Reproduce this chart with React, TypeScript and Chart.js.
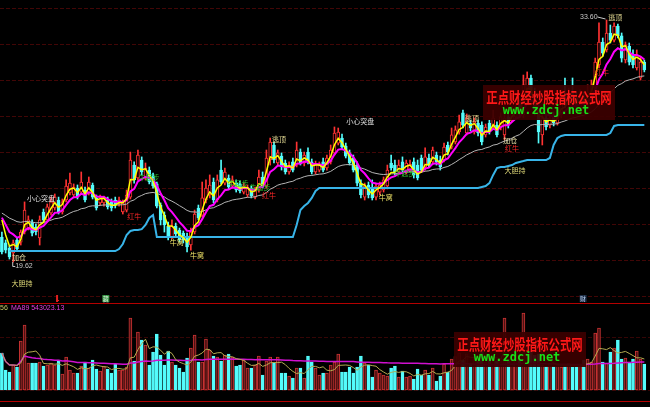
import React, { useEffect, useRef } from 'react';
import { Chart, registerables } from 'chart.js';

Chart.register(...registerables);

// Daily OHLC prices
const OPEN = [
  21.06, 20.72, 20.43, 20.14, 20.89, 20.77, 21.35, 21.58, 21.93, 21.64,
  21.01, 22.51, 22.05, 22.45, 22.74, 23.20, 22.51, 23.20, 23.61, 23.49,
  23.89, 23.66, 23.78, 23.61, 24.07, 23.32, 23.03, 23.03, 23.20, 23.09,
  23.20, 23.03, 22.51, 22.62, 23.37, 25.22, 24.47, 25.51, 24.47, 24.93,
  24.59, 24.13, 22.91, 22.33, 21.70, 21.06, 21.70, 21.47, 21.29, 21.12,
  20.60, 21.35, 22.74, 22.33, 23.20, 23.49, 24.24, 23.20, 24.93, 24.18,
  24.47, 24.01, 24.18, 24.13, 23.66, 23.49, 23.89, 23.37, 23.78, 24.53,
  24.01, 25.51, 26.38, 25.34, 25.74, 25.34, 24.82, 25.40, 25.22, 25.97,
  25.34, 25.97, 25.40, 24.82, 24.93, 25.40, 25.05, 25.40, 25.92, 26.49,
  26.78, 26.32, 25.92, 25.63, 25.22, 24.18, 23.37, 24.07, 23.89, 23.37,
  23.66, 23.78, 24.01, 25.34, 25.22, 24.82, 25.40, 24.82, 24.93, 25.40,
  25.22, 25.63, 25.11, 25.63, 25.40, 25.80, 25.51, 25.51, 26.38, 26.26,
  26.55, 27.13, 28.23, 27.07, 27.65, 27.13, 27.65, 27.53, 26.96, 27.65,
  27.42, 27.53, 27.42, 26.96, 28.00, 27.82, 28.00, 28.80, 28.11, 29.56,
  30.25, 29.27, 28.40, 26.96, 27.94, 27.53, 28.00, 27.65, 28.11, 29.27,
  28.69, 29.38, 29.09, 28.52, 29.09, 28.69, 29.27, 29.67, 31.00, 32.33,
  31.87, 32.85, 32.44, 33.25, 32.68, 31.29, 32.10, 31.58, 30.83, 30.25, 31.17,
];
const HIGH = [
  21.35, 20.89, 20.54, 20.89, 21.01, 21.47, 23.09, 22.28, 22.05, 21.81,
  22.28, 22.68, 22.97, 23.37, 23.55, 23.37, 23.26, 24.36, 24.76, 24.13,
  24.07, 24.82, 23.95, 24.53, 24.18, 23.49, 23.49, 23.43, 23.37, 23.26,
  23.37, 23.37, 23.20, 23.78, 25.97, 25.40, 26.09, 25.69, 25.34, 25.11,
  24.76, 24.24, 23.03, 22.51, 21.93, 22.05, 21.87, 21.58, 21.41, 21.29,
  21.58, 22.62, 22.91, 24.24, 24.36, 24.65, 24.47, 24.65, 25.51, 25.05,
  24.65, 24.59, 24.36, 24.30, 24.18, 24.07, 24.01, 23.95, 24.93, 24.82,
  26.09, 26.78, 26.55, 26.09, 25.92, 25.51, 25.40, 25.63, 26.55, 26.15,
  25.97, 26.21, 25.57, 25.45, 25.40, 25.63, 25.80, 26.38, 27.42, 27.36,
  27.01, 26.49, 26.09, 25.80, 25.40, 24.36, 24.18, 24.24, 24.36, 24.18,
  24.24, 24.53, 25.22, 25.80, 25.51, 25.51, 25.69, 25.51, 25.51, 25.63,
  25.51, 25.80, 26.21, 25.86, 26.26, 25.97, 25.74, 26.49, 26.55, 27.36,
  27.48, 28.11, 28.40, 28.17, 27.82, 27.94, 27.82, 27.71, 27.59, 27.82,
  28.40, 27.71, 28.23, 28.29, 28.23, 28.63, 28.80, 28.98, 30.42, 30.60,
  30.42, 29.67, 28.69, 28.11, 28.11, 28.17, 28.29, 28.40, 29.56, 30.25,
  29.67, 30.25, 29.44, 29.56, 29.44, 29.85, 30.13, 31.40, 33.43, 32.56,
  33.60, 33.31, 33.43, 33.37, 32.85, 32.33, 32.27, 31.87, 31.87, 31.46, 31.29,
];
const LOW = [
  20.08, 20.14, 19.79, 19.62, 20.25, 20.60, 21.24, 21.47, 21.12, 21.18,
  20.60, 21.93, 21.93, 22.33, 22.62, 22.39, 22.39, 23.09, 23.49, 23.37,
  23.26, 23.55, 23.09, 23.49, 23.26, 22.62, 22.91, 22.85, 22.68, 22.57,
  22.74, 22.85, 22.39, 22.51, 23.26, 24.18, 24.36, 24.65, 24.36, 24.13,
  23.89, 22.74, 21.76, 21.35, 20.89, 20.95, 21.12, 20.77, 20.72, 20.20,
  20.31, 21.24, 22.05, 22.22, 23.03, 23.32, 23.03, 23.09, 24.13, 24.07,
  23.84, 23.89, 23.66, 23.61, 23.55, 23.37, 23.32, 23.26, 23.66, 23.89,
  23.89, 25.22, 25.34, 25.22, 24.93, 24.70, 24.70, 24.82, 25.11, 25.22,
  25.17, 25.28, 24.70, 24.70, 24.82, 24.82, 24.93, 25.28, 25.80, 26.38,
  26.15, 25.63, 25.22, 24.82, 24.01, 23.32, 23.20, 23.32, 23.20, 23.20,
  23.49, 23.66, 23.84, 24.93, 24.65, 24.70, 24.82, 24.70, 24.82, 24.47,
  24.36, 24.82, 24.93, 25.11, 25.28, 25.22, 24.93, 25.40, 25.80, 26.15,
  26.44, 27.01, 27.36, 26.96, 27.19, 27.01, 26.90, 26.38, 26.84, 27.01,
  27.30, 26.84, 27.25, 26.67, 27.36, 27.71, 27.88, 28.05, 27.94, 29.27,
  29.27, 28.11, 26.49, 26.38, 27.25, 27.36, 27.48, 27.53, 27.94, 28.52,
  28.52, 28.75, 28.40, 28.29, 28.52, 28.52, 29.09, 29.56, 30.83, 31.52,
  31.75, 32.27, 32.33, 32.56, 31.17, 31.12, 31.00, 30.83, 30.71, 30.13, 30.60,
];
const CLOSE = [
  20.20, 20.31, 19.91, 20.72, 20.37, 21.35, 22.62, 22.05, 21.29, 21.35,
  22.05, 22.05, 22.80, 23.09, 23.37, 22.51, 23.09, 24.01, 24.18, 23.95,
  23.37, 24.24, 23.20, 24.24, 23.37, 22.74, 23.37, 23.32, 22.80, 22.74,
  22.91, 23.20, 23.03, 23.49, 25.51, 24.36, 25.80, 24.82, 25.05, 24.24,
  24.01, 22.85, 22.05, 21.76, 21.12, 21.70, 21.24, 20.89, 20.89, 20.49,
  21.35, 22.39, 22.16, 23.32, 23.89, 24.07, 23.20, 24.36, 24.24, 24.82,
  23.95, 24.36, 23.78, 23.72, 24.01, 23.89, 23.43, 23.78, 24.53, 24.01,
  25.63, 26.55, 25.51, 25.92, 25.11, 24.82, 25.22, 24.93, 26.09, 25.34,
  25.80, 25.40, 24.82, 25.28, 25.22, 24.93, 25.63, 26.09, 27.07, 27.13,
  26.26, 25.74, 25.34, 24.93, 24.18, 23.49, 24.01, 23.49, 23.32, 24.01,
  24.07, 24.36, 24.93, 25.05, 24.82, 25.22, 24.93, 25.34, 25.28, 24.65,
  24.47, 24.93, 25.69, 25.22, 26.09, 25.40, 25.11, 26.26, 25.97, 26.96,
  27.25, 27.71, 27.53, 27.94, 27.36, 27.71, 27.07, 26.55, 27.42, 27.13,
  27.94, 26.96, 28.00, 27.94, 27.53, 28.40, 28.57, 28.23, 29.85, 30.25,
  29.56, 28.40, 27.13, 27.94, 27.42, 27.94, 27.65, 28.11, 28.98, 28.69,
  29.27, 28.98, 28.63, 29.09, 28.75, 29.44, 29.79, 31.17, 32.33, 31.69,
  32.85, 32.44, 33.25, 32.68, 31.40, 32.16, 31.17, 31.00, 31.58, 31.17, 30.71,
];

// Daily volume
const VOLUME = [
  718000, 388000, 349000, 485000, 446000, 951000, 1261000, 524000, 524000, 524000,
  543000, 466000, 485000, 524000, 485000, 582000, 310000, 640000, 388000, 330000,
  330000, 466000, 543000, 427000, 582000, 407000, 369000, 466000, 407000, 330000,
  504000, 388000, 388000, 446000, 1397000, 563000, 1125000, 970000, 873000, 485000,
  737000, 1086000, 679000, 485000, 757000, 543000, 485000, 427000, 349000, 621000,
  815000, 1067000, 543000, 543000, 989000, 776000, 660000, 640000, 563000, 679000,
  698000, 640000, 466000, 485000, 582000, 427000, 427000, 485000, 660000, 291000,
  563000, 640000, 524000, 640000, 330000, 330000, 272000, 233000, 427000, 427000,
  233000, 660000, 543000, 427000, 291000, 330000, 330000, 485000, 543000, 698000,
  349000, 349000, 446000, 330000, 446000, 660000, 524000, 485000, 252000, 388000,
  330000, 291000, 272000, 427000, 466000, 252000, 369000, 252000, 272000, 213000,
  407000, 291000, 388000, 291000, 427000, 175000, 272000, 504000, 349000, 600000,
  650000, 720000, 580000, 700000, 520000, 610000, 560000, 750000, 540000, 590000,
  680000, 560000, 620000, 1397000, 600000, 650000, 700000, 580000, 1494000, 900000,
  760000, 671059, 700000, 480000, 466000, 520000, 466000, 500000, 446000, 466000,
  520000, 446000, 446000, 466000, 582000, 600000, 543000, 1106000, 1203000, 543000,
  524000, 737000, 815000, 970000, 601000, 621000, 543000, 601000, 757000, 601000, 504000,
];

// Stepped support line, as [number of bars, level] runs
const SUPPORT_RUNS: Array<[number, number | null]> = [
  [2, null], [29, 20.25],
  [1, 20.37], [1, 20.66], [1, 21.18], [1, 21.41], [2, 21.47], [1, 21.52], [1, 21.76], [1, 22.16], [1, 22.33],
  [37, 21.06],
  [1, 21.76], [1, 22.62], [1, 22.85], [1, 23.03], [1, 23.32], [1, 23.72],
  [43, 23.89],
  [1, 23.95], [1, 24.01], [1, 24.18], [1, 24.65], [1, 25.05], [2, 25.11], [1, 25.17], [1, 25.22], [1, 25.34], [1, 25.40], [1, 25.45],
  [6, 25.51],
  [1, 25.63], [1, 26.38], [1, 26.78], [1, 26.90],
  [12, 26.96],
  [1, 27.07], [1, 27.48],
  [8, 27.53],
];

// Moving-average periods and the averages' levels coming into the first bar
const EMA_FAST = 3;
const EMA_MID = 8;
const EMA_SLOW = 30;
const EMA_PRIOR = { fast: 23.9, mid: 22.75, slow: 22.6 };
const VOL_MA_SHORT = 5;
const VOL_MA_LONG = 89;

// Signal labels: text, bar position and price level
const SIGNALS: Array<{ text: string; at: number; price: number; color: string }> = [
  { text: '小心突盘', at: 10.35, price: 23.32, color: '#dcdcdc' },
  { text: '小心突盘', at: 94.8, price: 27.77, color: '#dcdcdc' },
  { text: '逃顶', at: 73.3, price: 26.72, color: '#e8de96' },
  { text: '逃顶', at: 124.4, price: 27.94, color: '#e8de96' },
  { text: '逃顶', at: 162.3, price: 33.77, color: '#e8de96' },
  { text: '牛窝', at: 46.3, price: 20.77, color: '#f0e468' },
  { text: '牛窝', at: 51.6, price: 20.02, color: '#f0e468' },
  { text: '牛窝', at: 101.6, price: 23.37, color: '#f0e468' },
  { text: '红牛', at: 35.0, price: 22.28, color: '#ff2828' },
  { text: '红牛', at: 70.7, price: 23.49, color: '#ff2828' },
  { text: '红牛', at: 135.0, price: 26.21, color: '#ff2828' },
  { text: '红牛', at: 158.8, price: 30.6, color: '#ff2828' },
  { text: '牛起步', at: 38.9, price: 24.53, color: '#2ec02e' },
  { text: '牛起步', at: 62.5, price: 24.18, color: '#2ec02e' },
  { text: '牛起步', at: 68.3, price: 23.95, color: '#2ec02e' },
  { text: '牛起步', at: 106.7, price: 24.76, color: '#2ec02e' },
  { text: '加仓', at: 4.5, price: 19.91, color: '#e8e0a8' },
  { text: '加仓', at: 134.5, price: 26.67, color: '#e8e0a8' },
  { text: '大胆持', at: 5.3, price: 18.41, color: '#e0da78' },
  { text: '大胆持', at: 135.8, price: 24.93, color: '#e0da78' },
];

// Event marks shown above the volume pane
const EVENT_MARKS: Array<{ at: number; kind: 'bar' | 'box' | 'text'; text?: string }> = [
  { at: 14.6, kind: 'bar' },
  { at: 27.5, kind: 'box', text: '藏' },
  { at: 153.8, kind: 'text', text: '财' },
];

const PRICE_MIN = 17.251;
const PRICE_MAX = 34.755;
const GRID_LEVELS = [34.29, 32.21, 30.13, 28.05, 25.97, 23.89, 21.81, 19.73, 17.65];
const VOL_MIN = -329800;
const VOL_MAX = 1687800;
const VOL_GRID = [1028200, 0];

const UP_RED = '#ff3232';
const DOWN_CYAN = '#54fcfc';
const CJK = '"Noto Sans CJK SC", sans-serif';

function ema(values: number[], period: number, prior: number): number[] {
  const k = 2 / (period + 1);
  let prev = prior;
  return values.map((v) => (prev = prev + k * (v - prev)));
}

function sma(values: number[], period: number): number[] {
  return values.map((_, i) => {
    const from = Math.max(0, i - period + 1);
    let sum = 0;
    for (let j = from; j <= i; j++) sum += values[j];
    return sum / (i - from + 1);
  });
}

function drawWatermark(ctx: CanvasRenderingContext2D, cx: number, top: number) {
  ctx.save();
  ctx.fillStyle = 'rgba(58,0,0,0.94)';
  ctx.fillRect(cx - 66, top, 132, 35);
  ctx.textAlign = 'center';
  ctx.textBaseline = 'middle';
  ctx.save();
  ctx.translate(cx, top + 12);
  ctx.scale(0.76, 1);
  ctx.font = `bold 15px ${CJK}`;
  ctx.fillStyle = '#ff1818';
  ctx.fillText('正点财经炒股指标公式网', 0, 0);
  ctx.restore();
  ctx.font = 'bold 12px "DejaVu Sans Mono", monospace';
  ctx.fillStyle = '#18e018';
  ctx.fillText('www.zdcj.net', cx - 3, top + 26);
  ctx.restore();
}

export default function App() {
  const priceRef = useRef<HTMLCanvasElement>(null);
  const volRef = useRef<HTMLCanvasElement>(null);

  useEffect(() => {
    document.body.style.margin = '0';
    document.body.style.background = '#000';

    const labels = Array.from({ length: CLOSE.length + 1 }, (_, i) => String(i));
    const up = CLOSE.map((c, i) => c >= OPEN[i]);
    const support: Array<number | null> = SUPPORT_RUNS.flatMap(([n, v]) => Array(n).fill(v));
    const fast = ema(CLOSE, EMA_FAST, EMA_PRIOR.fast);
    const mid = ema(CLOSE, EMA_MID, EMA_PRIOR.mid);
    const slow = ema(CLOSE, EMA_SLOW, EMA_PRIOR.slow);
    const volShort = sma(VOLUME, VOL_MA_SHORT);
    const volLong = sma(VOLUME, VOL_MA_LONG);

    const priceDecor = {
      id: 'priceDecor',
      beforeDatasetsDraw(chart: any) {
        const { ctx, chartArea, scales } = chart;
        ctx.save();
        ctx.strokeStyle = '#420606';
        ctx.lineWidth = 1;
        ctx.setLineDash([4, 2]);
        GRID_LEVELS.forEach((v) => {
          const py = Math.round(scales.y.getPixelForValue(v)) + 0.5;
          ctx.beginPath();
          ctx.moveTo(chartArea.left, py);
          ctx.lineTo(chartArea.right, py);
          ctx.stroke();
        });
        ctx.restore();
      },
      afterDatasetsDraw(chart: any) {
        const { ctx, scales } = chart;
        const xs = scales.x;
        const ys = scales.y;
        ctx.save();
        ctx.textAlign = 'center';
        ctx.textBaseline = 'middle';
        ctx.font = `7px ${CJK}`;
        SIGNALS.forEach((s) => {
          ctx.fillStyle = s.color;
          ctx.fillText(s.text, xs.getPixelForValue(s.at), ys.getPixelForValue(s.price));
        });

        // highest high and lowest low
        const hi = HIGH.indexOf(Math.max(...HIGH));
        const lo = LOW.indexOf(Math.min(...LOW));
        const hx = xs.getPixelForValue(hi);
        const hy = ys.getPixelForValue(HIGH[hi]) - 3;
        ctx.strokeStyle = '#c8c8c8';
        ctx.lineWidth = 1;
        ctx.beginPath();
        ctx.moveTo(hx - 9, hy);
        ctx.lineTo(hx - 1, hy + 2);
        ctx.stroke();
        ctx.font = '7px "Liberation Sans", sans-serif';
        ctx.fillStyle = '#c8c8c8';
        ctx.textAlign = 'right';
        ctx.fillText(HIGH[hi].toFixed(2), hx - 9, hy);
        const lx = xs.getPixelForValue(lo);
        const ly = ys.getPixelForValue(LOW[lo]);
        ctx.beginPath();
        ctx.moveTo(lx - 0.5, ly);
        ctx.lineTo(lx - 0.5, ly + 4.5);
        ctx.lineTo(lx + 2, ly + 4.5);
        ctx.stroke();
        ctx.textAlign = 'left';
        ctx.fillText(LOW[lo].toFixed(2), lx + 2, ly + 4.5);

        // event marks
        EVENT_MARKS.forEach((m) => {
          const mx = xs.getPixelForValue(m.at);
          if (m.kind === 'bar') {
            ctx.fillStyle = '#e02020';
            ctx.fillRect(mx - 1, 295, 2, 7);
            ctx.fillRect(mx - 1, 300, 3, 1);
          } else if (m.kind === 'box') {
            ctx.fillStyle = '#2f8f3f';
            ctx.fillRect(mx - 3.5, 295, 7, 7);
            ctx.fillStyle = '#d8f0d8';
            ctx.font = `6px ${CJK}`;
            ctx.textAlign = 'center';
            ctx.fillText(m.text, mx, 298.5);
          } else {
            ctx.fillStyle = '#1c2c44';
            ctx.fillRect(mx - 3.5, 295, 7, 7);
            ctx.fillStyle = '#b0c8e8';
            ctx.font = `6px ${CJK}`;
            ctx.textAlign = 'center';
            ctx.fillText(m.text, mx, 298.5);
          }
        });

        drawWatermark(ctx, 549, 85);
        ctx.restore();
      },
    };

    const volDecor = {
      id: 'volDecor',
      beforeDatasetsDraw(chart: any) {
        const { ctx, chartArea, scales } = chart;
        ctx.save();
        ctx.strokeStyle = '#b40000';
        ctx.lineWidth = 1;
        ctx.beginPath();
        ctx.moveTo(chartArea.left, 0.5);
        ctx.lineTo(chartArea.right, 0.5);
        ctx.moveTo(chartArea.left, 98.5);
        ctx.lineTo(chartArea.right, 98.5);
        ctx.stroke();
        ctx.strokeStyle = '#360505';
        ctx.setLineDash([4, 2]);
        VOL_GRID.forEach((v) => {
          const py = Math.round(scales.y.getPixelForValue(v)) + 0.5;
          ctx.beginPath();
          ctx.moveTo(chartArea.left, py);
          ctx.lineTo(chartArea.right, py);
          ctx.stroke();
        });
        ctx.restore();
      },
      afterDatasetsDraw(chart: any) {
        const { ctx } = chart;
        ctx.save();
        ctx.font = '7px "Liberation Sans", sans-serif';
        ctx.textBaseline = 'middle';
        ctx.textAlign = 'left';
        ctx.fillStyle = '#c8c864';
        ctx.fillText('56', 0, 5);
        ctx.fillStyle = '#e040e0';
        ctx.fillText(`MA89 ${volLong[volLong.length - 1].toFixed(2)}`, 11, 5);
        drawWatermark(ctx, 520, 29);
        ctx.restore();
      },
    };

    const common = {
      responsive: false,
      animation: false as const,
      devicePixelRatio: 1,
      events: [] as any[],
      layout: { padding: 0 },
      plugins: { legend: { display: false }, tooltip: { enabled: false } },
    };

    const priceChart = new Chart(priceRef.current!, {
      type: 'bar',
      data: {
        labels,
        datasets: [
          { type: 'line', data: fast, borderColor: '#ffff00', borderWidth: 1.5, pointRadius: 0, order: 0 },
          { type: 'line', data: mid, borderColor: '#ff00ff', borderWidth: 2, pointRadius: 0, order: 1 },
          { type: 'line', data: support, borderColor: '#38b4e8', borderWidth: 2, pointRadius: 0, spanGaps: false, order: 2 },
          { type: 'line', data: slow, borderColor: '#b4b4b4', borderWidth: 1, pointRadius: 0, order: 3 },
          {
            type: 'bar',
            data: OPEN.map((o, i) => [o, CLOSE[i]]),
            backgroundColor: up.map((u) => (u ? '#000000' : DOWN_CYAN)),
            borderColor: up.map((u) => (u ? UP_RED : DOWN_CYAN)),
            borderWidth: 1,
            borderSkipped: false,
            barThickness: 3,
            minBarLength: 1,
            grouped: false,
            order: 4,
          },
          {
            type: 'bar',
            data: LOW.map((l, i) => [l, HIGH[i]]),
            backgroundColor: up.map((u) => (u ? UP_RED : DOWN_CYAN)),
            borderWidth: 0,
            barThickness: 1,
            grouped: false,
            order: 5,
          },
        ] as any,
      },
      options: {
        ...common,
        scales: {
          x: { display: false, offset: true, grid: { display: false } },
          y: { display: false, min: PRICE_MIN, max: PRICE_MAX },
        },
      } as any,
      plugins: [priceDecor],
    });

    const volChart = new Chart(volRef.current!, {
      type: 'bar',
      data: {
        labels,
        datasets: [
          { type: 'line', data: volShort, borderColor: '#b4aa50', borderWidth: 1, pointRadius: 0, order: 0 },
          { type: 'line', data: volLong, borderColor: '#d010d0', borderWidth: 1.5, pointRadius: 0, order: 1 },
          {
            type: 'bar',
            data: VOLUME,
            backgroundColor: up.map((u) => (u ? '#4a1212' : DOWN_CYAN)),
            borderColor: up.map((u) => (u ? '#c83232' : DOWN_CYAN)),
            borderWidth: 1,
            borderSkipped: false,
            barThickness: 3,
            grouped: false,
            order: 2,
          },
        ] as any,
      },
      options: {
        ...common,
        scales: {
          x: { display: false, offset: true, grid: { display: false } },
          y: { display: false, min: VOL_MIN, max: VOL_MAX },
        },
      } as any,
      plugins: [volDecor],
    });

    return () => {
      priceChart.destroy();
      volChart.destroy();
    };
  }, []);

  return (
    <div style={{ position: 'absolute', left: 0, top: 0, width: 650, height: 407, background: '#000', overflow: 'hidden' }}>
      <canvas ref={priceRef} width={650} height={303} style={{ position: 'absolute', left: 0, top: 0, width: 650, height: 303 }} />
      <canvas ref={volRef} width={650} height={104} style={{ position: 'absolute', left: 0, top: 303, width: 650, height: 104 }} />
    </div>
  );
}
